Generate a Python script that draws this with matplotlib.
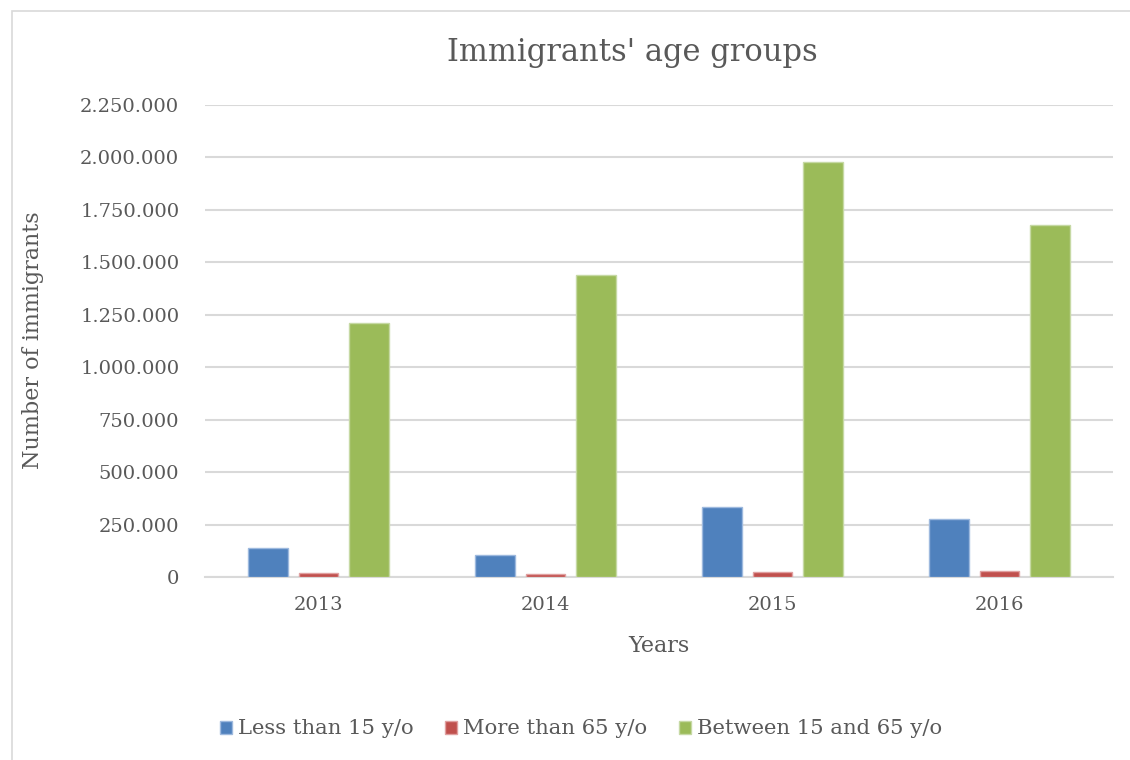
import matplotlib
matplotlib.use("Agg")
import matplotlib.pyplot as plt
from matplotlib.patches import Rectangle
from matplotlib.ticker import FuncFormatter
import numpy as np

years = ["2013", "2014", "2015", "2016"]
less_15 = [138000, 103000, 334000, 275000]
more_65 = [19000, 16000, 24000, 29000]
between = [1211000, 1439000, 1978000, 1678000]
series_names = ["Less than 15 y/o", "More than 65 y/o", "Between 15 and 65 y/o"]
colors = ["#4F81BD", "#C0504D", "#9BBB59"]
edges = ["#9DB9DE", "#E0A0A0", "#C6D9A4"]

plt.rcParams['font.family'] = ['DejaVu Serif']
txt = "#595959"
W, H = 1130, 760

fig = plt.figure(figsize=(11.3, 7.6), dpi=100)
fig.patches.append(Rectangle((12/W, -0.1), 1.2, 1.1 - 11/H, transform=fig.transFigure,
                             fill=False, edgecolor="#D9D9D9", linewidth=1.2))
ax = fig.add_axes([205/W, 1 - 577/H, (1113 - 205)/W, (577 - 105)/H])

x = np.arange(len(years))
w = 0.176
off = 0.222
for i, (vals, c, e, n) in enumerate(zip([less_15, more_65, between], colors, edges, series_names)):
    ax.bar(x + (i - 1) * off, vals, width=w, color=c, edgecolor=e, linewidth=1.0, label=n, zorder=3)

ax.set_xlim(-0.5, 3.5)
ax.set_ylim(0, 2250000)
ax.set_yticks(np.arange(0, 2250001, 250000))
ax.yaxis.set_major_formatter(FuncFormatter(lambda v, p: "0" if v == 0 else f"{int(v):,}".replace(",", ".")))
ax.set_xticks(x)
ax.set_xticklabels(years)
ax.grid(axis="y", color="#D9D9D9", linewidth=1.5, zorder=0)
for s in ["top", "right", "left"]:
    ax.spines[s].set_visible(False)
ax.spines["bottom"].set_color("#D9D9D9")
ax.spines["bottom"].set_linewidth(1.5)
ax.tick_params(axis="both", length=0, labelsize=14, labelcolor=txt)
ax.tick_params(axis="y", pad=18.5)
ax.tick_params(axis="x", pad=14)

fig.text(659/W, 1 - 646/H, "Years", fontsize=16, color=txt, ha="center", va="center")
fig.text(33/W, 1 - 340/H, "Number of immigrants", fontsize=16, color=txt, ha="center", va="center",
         rotation=90)
fig.text(632/W, 1 - 52/H, "Immigrants' age groups", fontsize=22, color=txt, ha="center", va="center")

leg = fig.legend(loc="center", bbox_to_anchor=(581/W, 1 - 729/H), ncol=3, frameon=False,
                 fontsize=15.2, handlelength=0.57, handleheight=0.57, handletextpad=0.28,
                 columnspacing=1.5)
for t in leg.get_texts():
    t.set_color(txt)

fig.savefig("out.png", dpi=100)
